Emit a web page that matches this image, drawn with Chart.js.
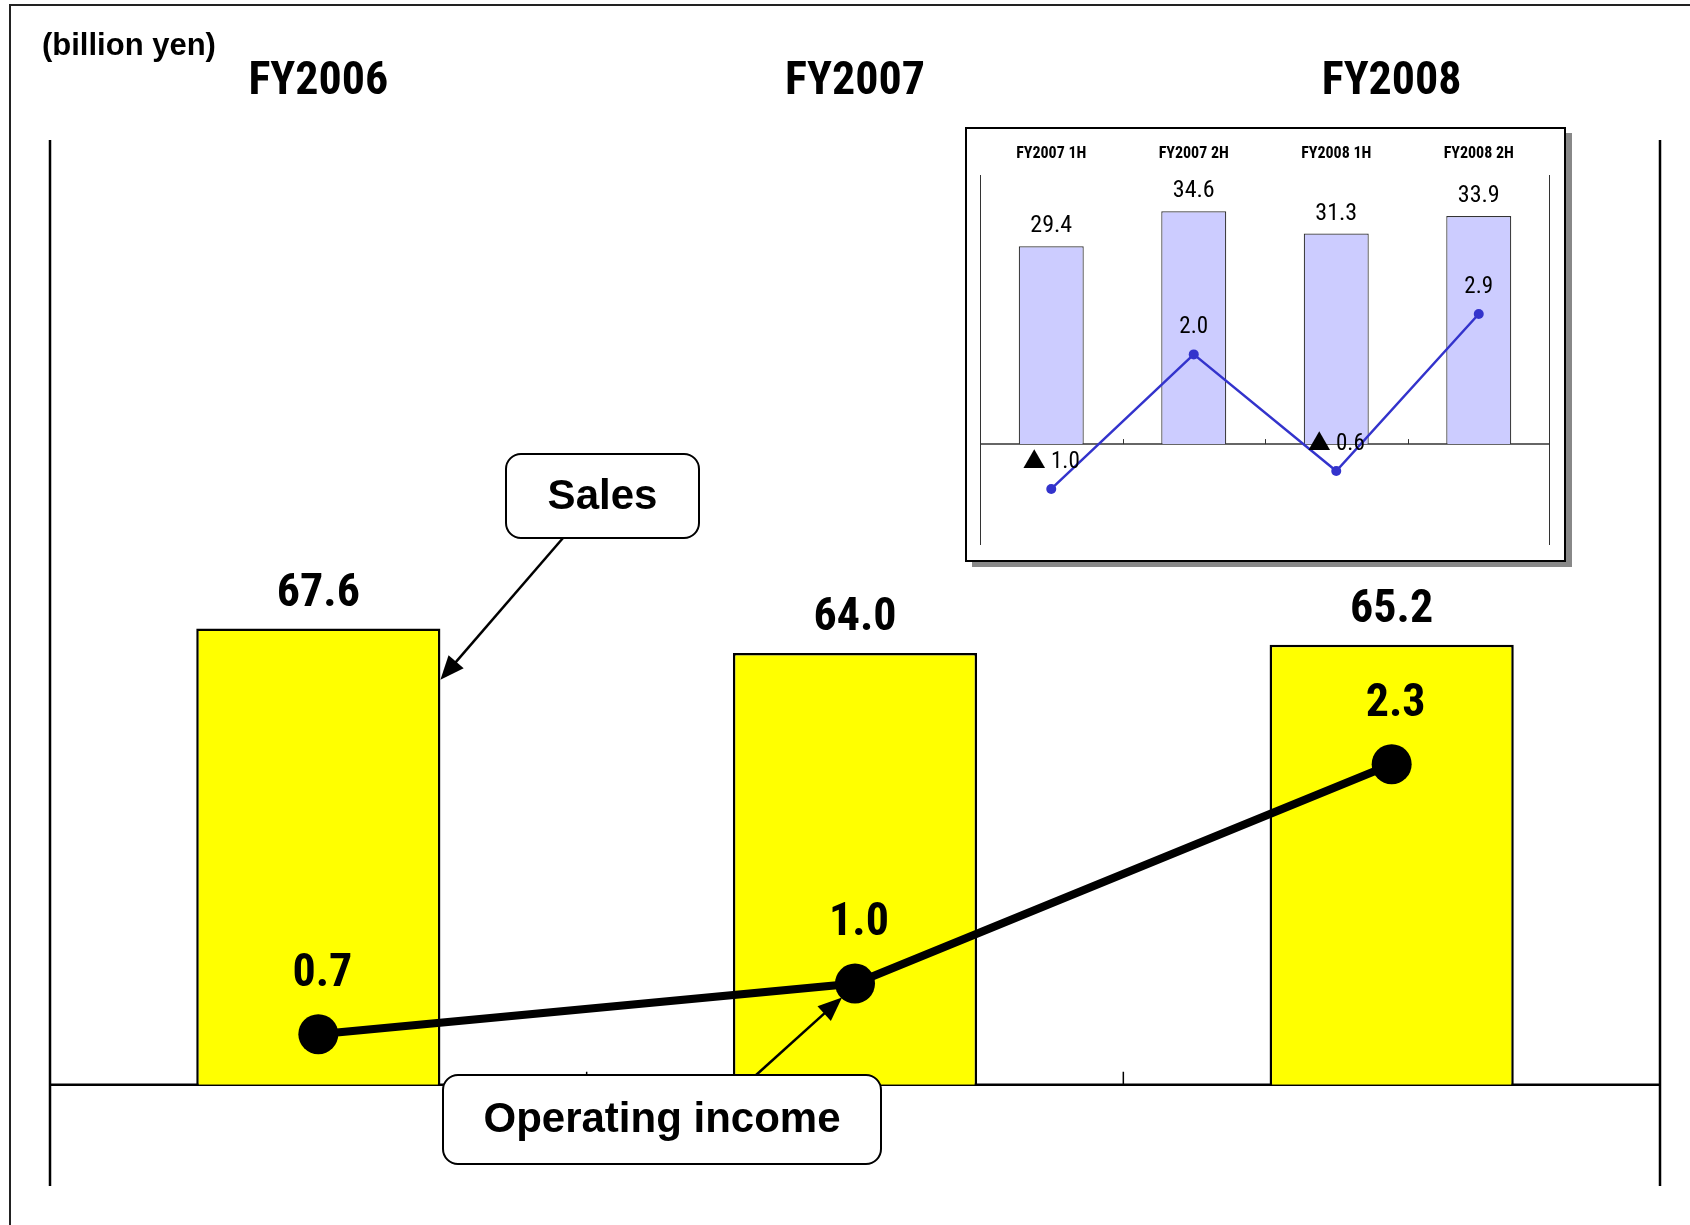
<!DOCTYPE html>
<html>
<head>
<meta charset="utf-8">
<script src="https://cdn.jsdelivr.net/npm/chart.js@4"></script>
<style>
  html, body { margin: 0; padding: 0; background: #fff; }
  #wrap { position: relative; width: 1690px; height: 1225px; }
  #mainChart { position: absolute; left: 0; top: 0; }
  #insetChart { position: absolute; left: 965px; top: 127px; }
</style>
</head>
<body>
<div id="wrap">
  <canvas id="mainChart" width="1690" height="1225"></canvas>
  <canvas id="insetChart" width="608" height="442"></canvas>
</div>
<script>
// data - full year
const categories = ['FY2006', 'FY2007', 'FY2008'];
const salesValues = [67.6, 64.0, 65.2];
const opIncomeValues = [0.7, 1.0, 2.3];

// data - half year (inset)
const halfCategories = ['FY2007 1H', 'FY2007 2H', 'FY2008 1H', 'FY2008 2H'];
const halfSales = [29.4, 34.6, 31.3, 33.9];
const halfOpIncome = [-1.0, 2.0, -0.6, 2.9];

const NARROW = '"Liberation Sans Narrow", "Roboto Condensed", "Noto Sans CJK JP", "Liberation Sans", sans-serif';
const ARIAL = '"Liberation Sans", Arial, sans-serif';

// negative values are written with a triangle, japanese style
function fmt(v) {
    return v < 0 ? '\u25B2 ' + Math.abs(v).toFixed(1) : v.toFixed(1);
}

function arrow(ctx, x1, y1, x2, y2, head, half) {
    const ang = Math.atan2(y2 - y1, x2 - x1);
    ctx.beginPath();
    ctx.moveTo(x1, y1);
    ctx.lineTo(x2 - Math.cos(ang) * head * 0.8, y2 - Math.sin(ang) * head * 0.8);
    ctx.stroke();
    ctx.beginPath();
    ctx.moveTo(x2, y2);
    ctx.lineTo(x2 - Math.cos(ang) * head + Math.sin(ang) * half, y2 - Math.sin(ang) * head - Math.cos(ang) * half);
    ctx.lineTo(x2 - Math.cos(ang) * head - Math.sin(ang) * half, y2 - Math.sin(ang) * head + Math.cos(ang) * half);
    ctx.closePath();
    ctx.fill();
}

function callout(ctx, x, y, w, h, text) {
    ctx.save();
    ctx.fillStyle = '#fff';
    ctx.strokeStyle = '#000';
    ctx.lineWidth = 2;
    ctx.beginPath();
    ctx.roundRect(x, y, w, h, 15);
    ctx.fill();
    ctx.stroke();
    ctx.fillStyle = '#000';
    ctx.font = 'bold 42px ' + ARIAL;
    ctx.textAlign = 'center';
    ctx.textBaseline = 'middle';
    ctx.fillText(text, x + w / 2, y + h / 2 + 1);
    ctx.restore();
}

// axis lines, labels and callouts of the big chart
const mainDecor = {
    id: 'mainDecor',
    beforeDatasetsDraw(chart) {
        const { ctx, chartArea: a, scales } = chart;
        const y0 = scales.y.getPixelForValue(0);
        ctx.save();
        ctx.strokeStyle = '#000';
        ctx.lineWidth = 2.5;
        ctx.beginPath();
        ctx.moveTo(a.left, a.top); ctx.lineTo(a.left, a.bottom);
        ctx.moveTo(a.right, a.top); ctx.lineTo(a.right, a.bottom);
        ctx.moveTo(a.left, y0); ctx.lineTo(a.right, y0);
        ctx.stroke();
        ctx.lineWidth = 1.5;
        ctx.beginPath();
        for (let i = 1; i < categories.length; i++) {
            const x = (scales.x.getPixelForValue(i - 1) + scales.x.getPixelForValue(i)) / 2;
            ctx.moveTo(x, y0); ctx.lineTo(x, y0 - 13);
        }
        ctx.stroke();
        ctx.restore();
    },
    afterDatasetsDraw(chart) {
        const { ctx, scales } = chart;
        const bars = chart.getDatasetMeta(1).data;
        const pts = chart.getDatasetMeta(0).data;
        ctx.save();
        // frame, top and left only
        ctx.strokeStyle = '#222';
        ctx.lineWidth = 2;
        ctx.beginPath();
        ctx.moveTo(10, 1225); ctx.lineTo(10, 5); ctx.lineTo(1690, 5);
        ctx.stroke();

        ctx.fillStyle = '#000';
        ctx.textAlign = 'center';
        ctx.textBaseline = 'middle';
        ctx.font = 'bold 46px ' + NARROW;
        categories.forEach((c, i) => {
            ctx.fillText(c, scales.x.getPixelForValue(i), 82);
        });
        salesValues.forEach((v, i) => {
            ctx.fillText(fmt(v), bars[i].x, bars[i].y - 34);
        });
        opIncomeValues.forEach((v, i) => {
            ctx.fillText(fmt(v), pts[i].x + 4, pts[i].y - 60);
        });

        ctx.textAlign = 'left';
        ctx.font = 'bold 31px ' + ARIAL;
        ctx.fillText('(billion yen)', 42, 46);

        // Sales callout
        ctx.strokeStyle = '#000';
        ctx.lineWidth = 2.5;
        arrow(ctx, 563, 538, bars[0].x + bars[0].width / 2, scales.y.getPixelForValue(60), 24, 10);
        callout(ctx, 506, 454, 193, 84, 'Sales');
        // Operating income callout
        arrow(ctx, 755, 1076, pts[1].x - 13, pts[1].y + 14, 24, 10);
        callout(ctx, 443, 1075, 438, 89, 'Operating income');
        ctx.restore();
    }
};

new Chart(document.getElementById('mainChart'), {
    type: 'bar',
    data: {
        labels: categories,
        datasets: [{
            type: 'line',
            label: 'Operating income',
            data: opIncomeValues,
            yAxisID: 'y2',
            borderColor: '#000',
            borderWidth: 8,
            pointRadius: 20,
            pointBackgroundColor: '#000',
            pointBorderWidth: 0,
            order: 0
        }, {
            type: 'bar',
            label: 'Sales',
            data: salesValues,
            yAxisID: 'y',
            backgroundColor: '#ffff00',
            borderColor: '#000',
            borderWidth: 2.5,
            categoryPercentage: 1,
            barPercentage: 0.455,
            order: 1
        }]
    },
    options: {
        responsive: false,
        devicePixelRatio: 1,
        animation: false,
        layout: { padding: { left: 50, right: 30, top: 140, bottom: 39 } },
        plugins: { legend: { display: false }, tooltip: { enabled: false } },
        scales: {
            x: { display: false, offset: true },
            y: { display: false, min: -15, max: 140 },
            y2: { display: false, min: -0.2, max: 6.0 }
        }
    },
    plugins: [mainDecor]
});

// inset: half year figures
const insetDecor = {
    id: 'insetDecor',
    beforeDraw(chart) {
        const ctx = chart.ctx;
        ctx.save();
        ctx.fillStyle = '#888';
        ctx.fillRect(7, 6, 600, 434);
        ctx.fillStyle = '#fff';
        ctx.fillRect(0, 0, 601, 435);
        ctx.strokeStyle = '#000';
        ctx.lineWidth = 2;
        ctx.strokeRect(1, 1, 599, 433);
        ctx.restore();
    },
    beforeDatasetsDraw(chart) {
        const { ctx, chartArea: a, scales } = chart;
        const y0 = scales.y.getPixelForValue(0);
        ctx.save();
        ctx.strokeStyle = '#333';
        ctx.lineWidth = 1;
        ctx.beginPath();
        ctx.moveTo(a.left + 0.5, a.top); ctx.lineTo(a.left + 0.5, a.bottom);
        ctx.moveTo(a.right - 0.5, a.top); ctx.lineTo(a.right - 0.5, a.bottom);
        for (let i = 1; i < halfCategories.length; i++) {
            const x = Math.round((scales.x.getPixelForValue(i - 1) + scales.x.getPixelForValue(i)) / 2) + 0.5;
            ctx.moveTo(x, y0); ctx.lineTo(x, y0 - 5);
        }
        ctx.stroke();
        ctx.lineWidth = 1.5;
        ctx.beginPath();
        ctx.moveTo(a.left, y0); ctx.lineTo(a.right, y0);
        ctx.stroke();
        ctx.restore();
    },
    afterDatasetsDraw(chart) {
        const { ctx, scales } = chart;
        const bars = chart.getDatasetMeta(1).data;
        const pts = chart.getDatasetMeta(0).data;
        ctx.save();
        ctx.fillStyle = '#000';
        ctx.textAlign = 'center';
        ctx.textBaseline = 'middle';
        ctx.font = 'bold 16px ' + NARROW;
        halfCategories.forEach((c, i) => {
            ctx.fillText(c, scales.x.getPixelForValue(i), 27);
        });
        ctx.font = '24px ' + NARROW;
        halfSales.forEach((v, i) => {
            ctx.fillText(fmt(v), bars[i].x, bars[i].y - 20);
        });
        ctx.font = '23px ' + NARROW;
        halfOpIncome.forEach((v, i) => {
            ctx.fillText(fmt(v), pts[i].x, pts[i].y - 27);
        });
        ctx.restore();
    }
};

new Chart(document.getElementById('insetChart'), {
    type: 'bar',
    data: {
        labels: halfCategories,
        datasets: [{
            type: 'line',
            label: 'Operating income',
            data: halfOpIncome,
            yAxisID: 'y2',
            borderColor: '#3333cc',
            borderWidth: 2.5,
            pointRadius: 5,
            pointBackgroundColor: '#3333cc',
            pointBorderWidth: 0,
            order: 0
        }, {
            type: 'bar',
            label: 'Sales',
            data: halfSales,
            yAxisID: 'y',
            backgroundColor: '#ccccff',
            borderColor: '#333',
            borderWidth: 1.2,
            categoryPercentage: 1,
            barPercentage: 0.456,
            order: 1
        }]
    },
    options: {
        responsive: false,
        devicePixelRatio: 1,
        animation: false,
        layout: { padding: { left: 15, right: 23, top: 48, bottom: 24 } },
        plugins: { legend: { display: false }, tooltip: { enabled: false } },
        scales: {
            x: { display: false, offset: true },
            y: { display: false, min: -15, max: 40 },
            y2: { display: false, min: -2.25, max: 6 }
        }
    },
    plugins: [insetDecor]
});
</script>
</body>
</html>
